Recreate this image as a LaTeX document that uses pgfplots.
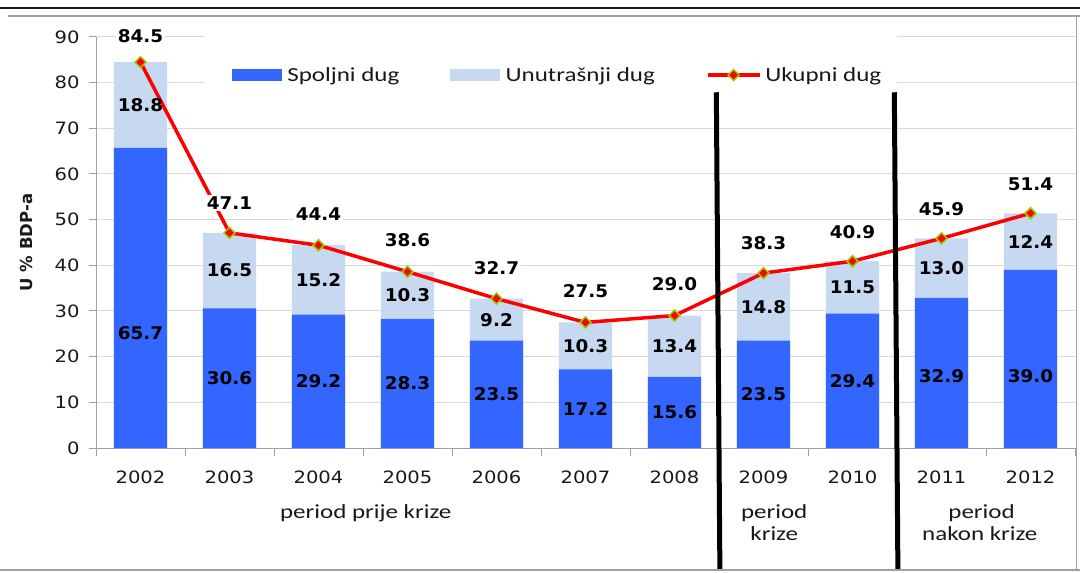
\documentclass[border=0pt]{standalone}
\usepackage{pgfplots}
\usepackage{pgfplotstable}
\pgfplotsset{compat=1.18}
\usepackage{fontspec}
\setmainfont{DejaVu Sans}
\newfontfamily\tickfont{DejaVu Sans}[FakeStretch=1.15]
\newfontfamily\labfont{DejaVu Sans}[FakeStretch=1.05]
\newfontfamily\calfont{Carlito}[FakeStretch=1.25]
\definecolor{spolj}{RGB}{51,102,255}
\definecolor{unut}{RGB}{198,217,241}
\definecolor{gridc}{RGB}{217,217,217}
\definecolor{axc}{RGB}{160,160,160}
\definecolor{mk}{RGB}{153,204,0}
\definecolor{txt}{RGB}{25,25,25}

\pgfplotstableread{
x sp un uk
0 65.7 18.8 84.5
1 30.6 16.5 47.1
2 29.2 15.2 44.4
3 28.3 10.3 38.6
4 23.5 9.2 32.7
5 17.2 10.3 27.5
6 15.6 13.4 29.0
7 23.5 14.8 38.3
8 29.4 11.5 40.9
9 32.9 13.0 45.9
10 39.0 12.4 51.4
}\data

% label positions (value units) and texts
\pgfplotstableread{
x y t
0 25.2 65.7
1 15.3 30.6
2 14.6 29.2
3 14.15 28.3
4 11.75 23.5
5 8.6 17.2
6 7.8 15.6
7 11.75 23.5
8 14.7 29.4
9 15.8 32.9
10 15.8 39.0
}\splab
\pgfplotstableread{
x y t
0 75.1 18.8
1 38.85 16.5
2 36.8 15.2
3 33.45 10.3
4 28.1 9.2
5 22.35 10.3
6 22.3 13.4
7 30.9 14.8
8 35.15 11.5
9 39.4 13.0
10 45.2 12.4
}\unlab
\pgfplotstableread{
x y t
0 90.1 84.5
1 53.7 47.1
2 51.2 44.4
3 45.5 38.6
4 39.4 32.7
5 34.4 27.5
6 35.9 29.0
7 44.9 38.3
8 47.3 40.9
9 52.3 45.9
10 57.8 51.4
}\uklab

\pgfplotsset{
  legbar/.style={legend image code/.code={\fill[##1, draw=none] (0bp,-6bp) rectangle (50bp,6bp); \path (55bp,0bp);}},
  legline/.style={legend image code/.code={\draw[mark repeat=2,mark phase=2,##1] plot coordinates {(0bp,0bp) (26bp,0bp) (52bp,0bp)}; \path (56bp,0bp);}},
}

\begin{document}
\begin{tikzpicture}
\useasboundingbox (0,0) rectangle (1080bp,573bp);
\begin{axis}[
  at={(96bp,125bp)}, anchor=south west,
  scale only axis, width=979bp, height=411bp,
  xmin=-0.5, xmax=10.5, ymin=0, ymax=90,
  clip=false,
  /pgf/number format/assume math mode=true,
  axis x line*=bottom, axis y line*=left,
  axis line style={draw=axc, line width=1bp},
  ytick={0,10,...,90},
  ymajorgrids, grid style={draw=gridc, line width=1bp},
  xtick={0,...,10},
  xticklabels={2002,2003,2004,2005,2006,2007,2008,2009,2010,2011,2012},
  tick align=outside, major tick length=7.5bp,
  tick style={draw=axc, line width=1bp},
  major x tick style={draw=none},
  extra x ticks={-0.5,0.5,...,10.5},
  extra x tick labels={},
  extra x tick style={major x tick style={draw=axc, line width=1bp}},
  x tick label style={font=\tickfont\fontsize{17bp}{20bp}\selectfont, text=txt, yshift=-12bp},
  y tick label style={font=\tickfont\fontsize{17bp}{20bp}\selectfont, text=txt, xshift=-5.5bp},
  ylabel={U \% BDP-a},
  every axis y label/.style={at={(axis description cs:-0.0705,0.5)}, rotate=90, anchor=center,
     font=\bfseries\fontsize{16.5bp}{20bp}\selectfont, text=txt},
  legend columns=3,
  legend style={at={(axis description cs:0.1389,0.9075)}, anchor=west,
     draw=none, fill=none, inner sep=0pt,
     nodes={inner sep=0pt},
     font=\calfont\fontsize{20bp}{24bp}\selectfont, text=txt,
     /tikz/every even column/.append style={column sep=51bp}},
  legend cell align=left,
]
% white box behind the legend
\fill[white] (axis cs:0.713,79) rectangle (axis cs:8.5,90.6);

\addlegendimage{legbar, fill=spolj}
\addlegendentry{Spoljni dug}
\addlegendimage{legbar, fill=unut}
\addlegendentry{Unutrašnji dug}
\addlegendimage{legline, red, line width=3.5bp, mark=diamond*, mark size=5.5bp,
   mark options={fill=red, draw=mk, line width=1.5bp, xscale=1.333}}
\addlegendentry{Ukupni dug}

\addplot[ybar, bar width=0.6, bar shift=0pt, fill=unut, draw=none, forget plot]
  table[x=x, y=uk] {\data};
\addplot[ybar, bar width=0.6, bar shift=0pt, fill=spolj, draw=none, forget plot]
  table[x=x, y=sp] {\data};
\addplot[red, line width=3.5bp, mark=diamond*, mark size=5.5bp,
   mark options={fill=red, draw=mk, line width=1.5bp, xscale=1.333}, forget plot]
  table[x=x, y=uk] {\data};

\addplot[draw=none, mark=none, forget plot, nodes near coords, point meta=explicit symbolic,
   nodes near coords style={anchor=center, inner sep=0pt, text=black,
     font=\labfont\bfseries\fontsize{17.5bp}{20bp}\selectfont}]
  table[x=x, y=y, meta=t] {\splab};
\addplot[draw=none, mark=none, forget plot, nodes near coords, point meta=explicit symbolic,
   nodes near coords style={anchor=center, inner sep=0pt, text=black,
     font=\labfont\bfseries\fontsize{17.5bp}{20bp}\selectfont}]
  table[x=x, y=y, meta=t] {\unlab};
\addplot[draw=none, mark=none, forget plot, nodes near coords, point meta=explicit symbolic,
   nodes near coords style={anchor=center, inner sep=1.5bp, fill=white, text=black,
     font=\labfont\bfseries\fontsize{17.5bp}{20bp}\selectfont}]
  table[x=x, y=y, meta=t] {\uklab};

% period separators
\draw[black, line width=5bp] (axis cs:6.47,77.9) -- (axis cs:6.51,-26.7);
\draw[black, line width=5bp] (axis cs:8.47,77.9) -- (axis cs:8.51,-26.7);

% period labels
\begin{scope}[every node/.style={font=\calfont\fontsize{20bp}{24bp}\selectfont, text=txt, anchor=base, inner sep=0pt}]
\node at (axis cs:2.53,-15.33) {period prije krize};
\node at (axis cs:7.12,-15.33) {period};
\node at (axis cs:7.12,-20.36) {krize};
\node at (axis cs:9.45,-15.33) {period};
\node at (axis cs:9.43,-20.36) {nakon krize};
\end{scope}
\end{axis}
% frame
\draw[black!90, line width=2bp] (0,565bp) -- (1080bp,565bp);
\draw[axc, line width=1.2bp] (8bp,557bp) -- (1080bp,557bp);
\draw[axc, line width=1.2bp] (1076.5bp,557bp) -- (1076.5bp,3bp);
\draw[axc, line width=1.2bp] (0,3bp) -- (1080bp,3bp);
\end{tikzpicture}
\end{document}
